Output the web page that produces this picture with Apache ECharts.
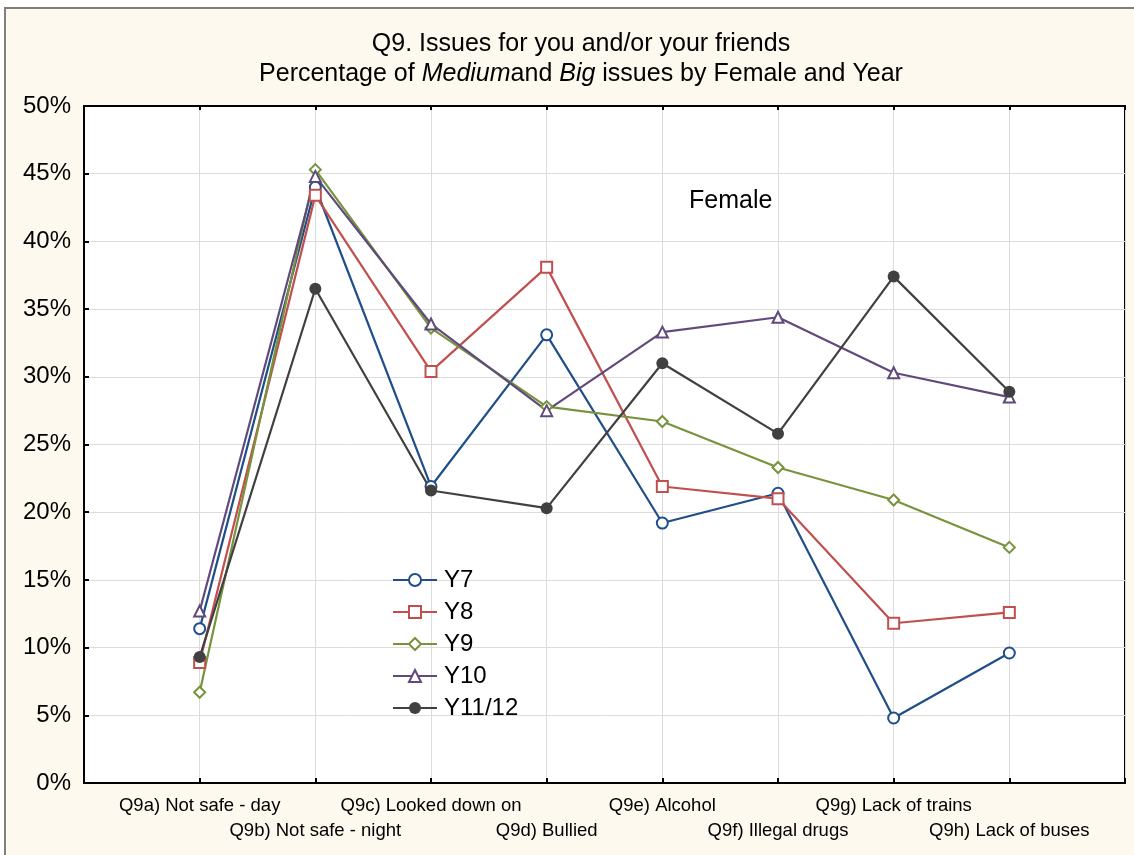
<!DOCTYPE html>
<html lang="en">

<head>
    <meta charset="UTF-8">
    <title>Q9 Issues - Female</title>
    <script src="https://cdn.jsdelivr.net/npm/echarts@6/dist/echarts.min.js"></script>
    <style>
        html, body { margin: 0; padding: 0; background: #fff; }
    </style>
</head>

<body>
    <div id="box" style="width: 1134px; height: 855px;"></div>
</body>

<script>
    // categories (empty slots at both ends give the full-step margin seen in the original)
    var questions = ["Q9a) Not safe - day", "Q9b) Not safe - night", "Q9c) Looked down on", "Q9d) Bullied",
        "Q9e) Alcohol", "Q9f) Illegal drugs", "Q9g) Lack of trains", "Q9h) Lack of buses"];

    // % of Medium + Big issues
    var y7 = [11.4, 44.0, 21.9, 33.1, 19.2, 21.4, 4.8, 9.6];
    var y8 = [8.9, 43.4, 30.4, 38.1, 21.9, 21.0, 11.8, 12.6];
    var y9 = [6.7, 45.3, 33.6, 27.8, 26.7, 23.3, 20.9, 17.4];
    var y10 = [12.7, 44.8, 33.9, 27.5, 33.3, 34.4, 30.3, 28.5];
    var y1112 = [9.3, 36.5, 21.6, 20.3, 31.0, 25.8, 37.4, 28.9];

    var yTicks = [0, 5, 10, 15, 20, 25, 30, 35, 40, 45, 50];

    var cats = [""].concat(questions, [""]);
    function pad(arr) { return [null].concat(arr, [null]); }

    var font = "'Liberation Sans', Arial, sans-serif";
    var box = echarts.init(document.getElementById("box"));

    var seriesDef = [
        { name: "Y7", data: y7, color: "#1f4e89", symbol: "emptyCircle" },
        { name: "Y8", data: y8, color: "#c0504d", symbol: "emptyRect" },
        { name: "Y9", data: y9, color: "#77933c", symbol: "emptyDiamond" },
        { name: "Y10", data: y10, color: "#604a7b", symbol: "emptyTriangle" },
        { name: "Y11/12", data: y1112, color: "#404040", symbol: "circle" }
    ];

    var series = seriesDef.map(function (s) {
        return {
            name: s.name,
            type: "line",
            data: pad(s.data),
            symbol: s.symbol,
            symbolSize: s.symbol == "circle" ? 12 : 11,
            showAllSymbol: true,
            connectNulls: false,
            itemStyle: { color: s.color, borderWidth: 2 },
            lineStyle: { color: s.color, width: 2.2 },
            emphasis: { disabled: true }
        };
    });

    var option = {
        backgroundColor: "#fff",
        animation: false,
        textStyle: { fontFamily: font },
        graphic: [{
            type: "rect",
            z: -100,
            shape: { x: 5, y: 8, width: 1140, height: 860 },
            style: { fill: "#fdf9ee", stroke: "#7f7f7f", lineWidth: 2 }
        }],
        title: [{
            text: "Q9. Issues for you and/or your friends\nPercentage of {i|Medium}and {i|Big} issues by Female and Year",
            left: 576,
            top: 24,
            textAlign: "center",
            textStyle: {
                fontFamily: font,
                fontWeight: "normal",
                fontSize: 25,
                lineHeight: 30,
                color: "#000",
                rich: {
                    i: { fontFamily: font, fontStyle: "italic", fontSize: 25, lineHeight: 30, color: "#000" }
                }
            }
        }, {
            text: "Female",
            left: 684,
            top: 184,
            textStyle: { fontFamily: font, fontWeight: "normal", fontSize: 25, color: "#000" }
        }],
        legend: {
            orient: "vertical",
            left: 387,
            top: 563,
            itemWidth: 44,
            itemHeight: 15,
            itemGap: 8,
            textStyle: { fontFamily: font, fontSize: 24, lineHeight: 24, color: "#000", padding: [0, 0, 0, 2] },
            data: seriesDef.map(function (s) { return s.name; })
        },
        grid: {
            left: 84,
            top: 106,
            right: 9,
            bottom: 72,
            show: true,
            backgroundColor: "#fff",
            borderColor: "#000",
            borderWidth: 2
        },
        xAxis: [{
            type: "category",
            boundaryGap: false,
            data: cats,
            axisLine: { show: true, lineStyle: { color: "#000", width: 2 } },
            axisTick: { show: true, inside: true, length: 5, interval: 0, lineStyle: { color: "#000", width: 2 } },
            splitLine: { show: true, interval: 0, lineStyle: { color: "#dcdcdc", width: 1 } },
            axisLabel: {
                interval: 0,
                margin: 10,
                fontFamily: font,
                fontSize: 18.5,
                lineHeight: 25,
                color: "#000",
                formatter: function (v, i) {
                    if (!v) return "";
                    return (i % 2 == 0) ? "\n" + v : v;
                }
            }
        }, {
            type: "category",
            position: "top",
            boundaryGap: false,
            data: cats,
            axisLine: { show: true, lineStyle: { color: "#000", width: 2 } },
            axisTick: { show: true, inside: true, length: 4, interval: 0, lineStyle: { color: "#000", width: 2 } },
            axisLabel: { show: false },
            splitLine: { show: false }
        }],
        yAxis: {
            type: "value",
            min: yTicks[0],
            max: yTicks[yTicks.length - 1],
            interval: 5,
            axisLine: { show: true, lineStyle: { color: "#000", width: 2 } },
            axisTick: { show: true, inside: true, length: 5, lineStyle: { color: "#000", width: 2 } },
            splitLine: { show: true, lineStyle: { color: "#dcdcdc", width: 1 } },
            axisLabel: {
                margin: 13,
                fontFamily: font,
                fontSize: 24,
                color: "#000",
                formatter: "{value}%"
            }
        },
        series: series
    };
    box.setOption(option);
</script>

</html>
